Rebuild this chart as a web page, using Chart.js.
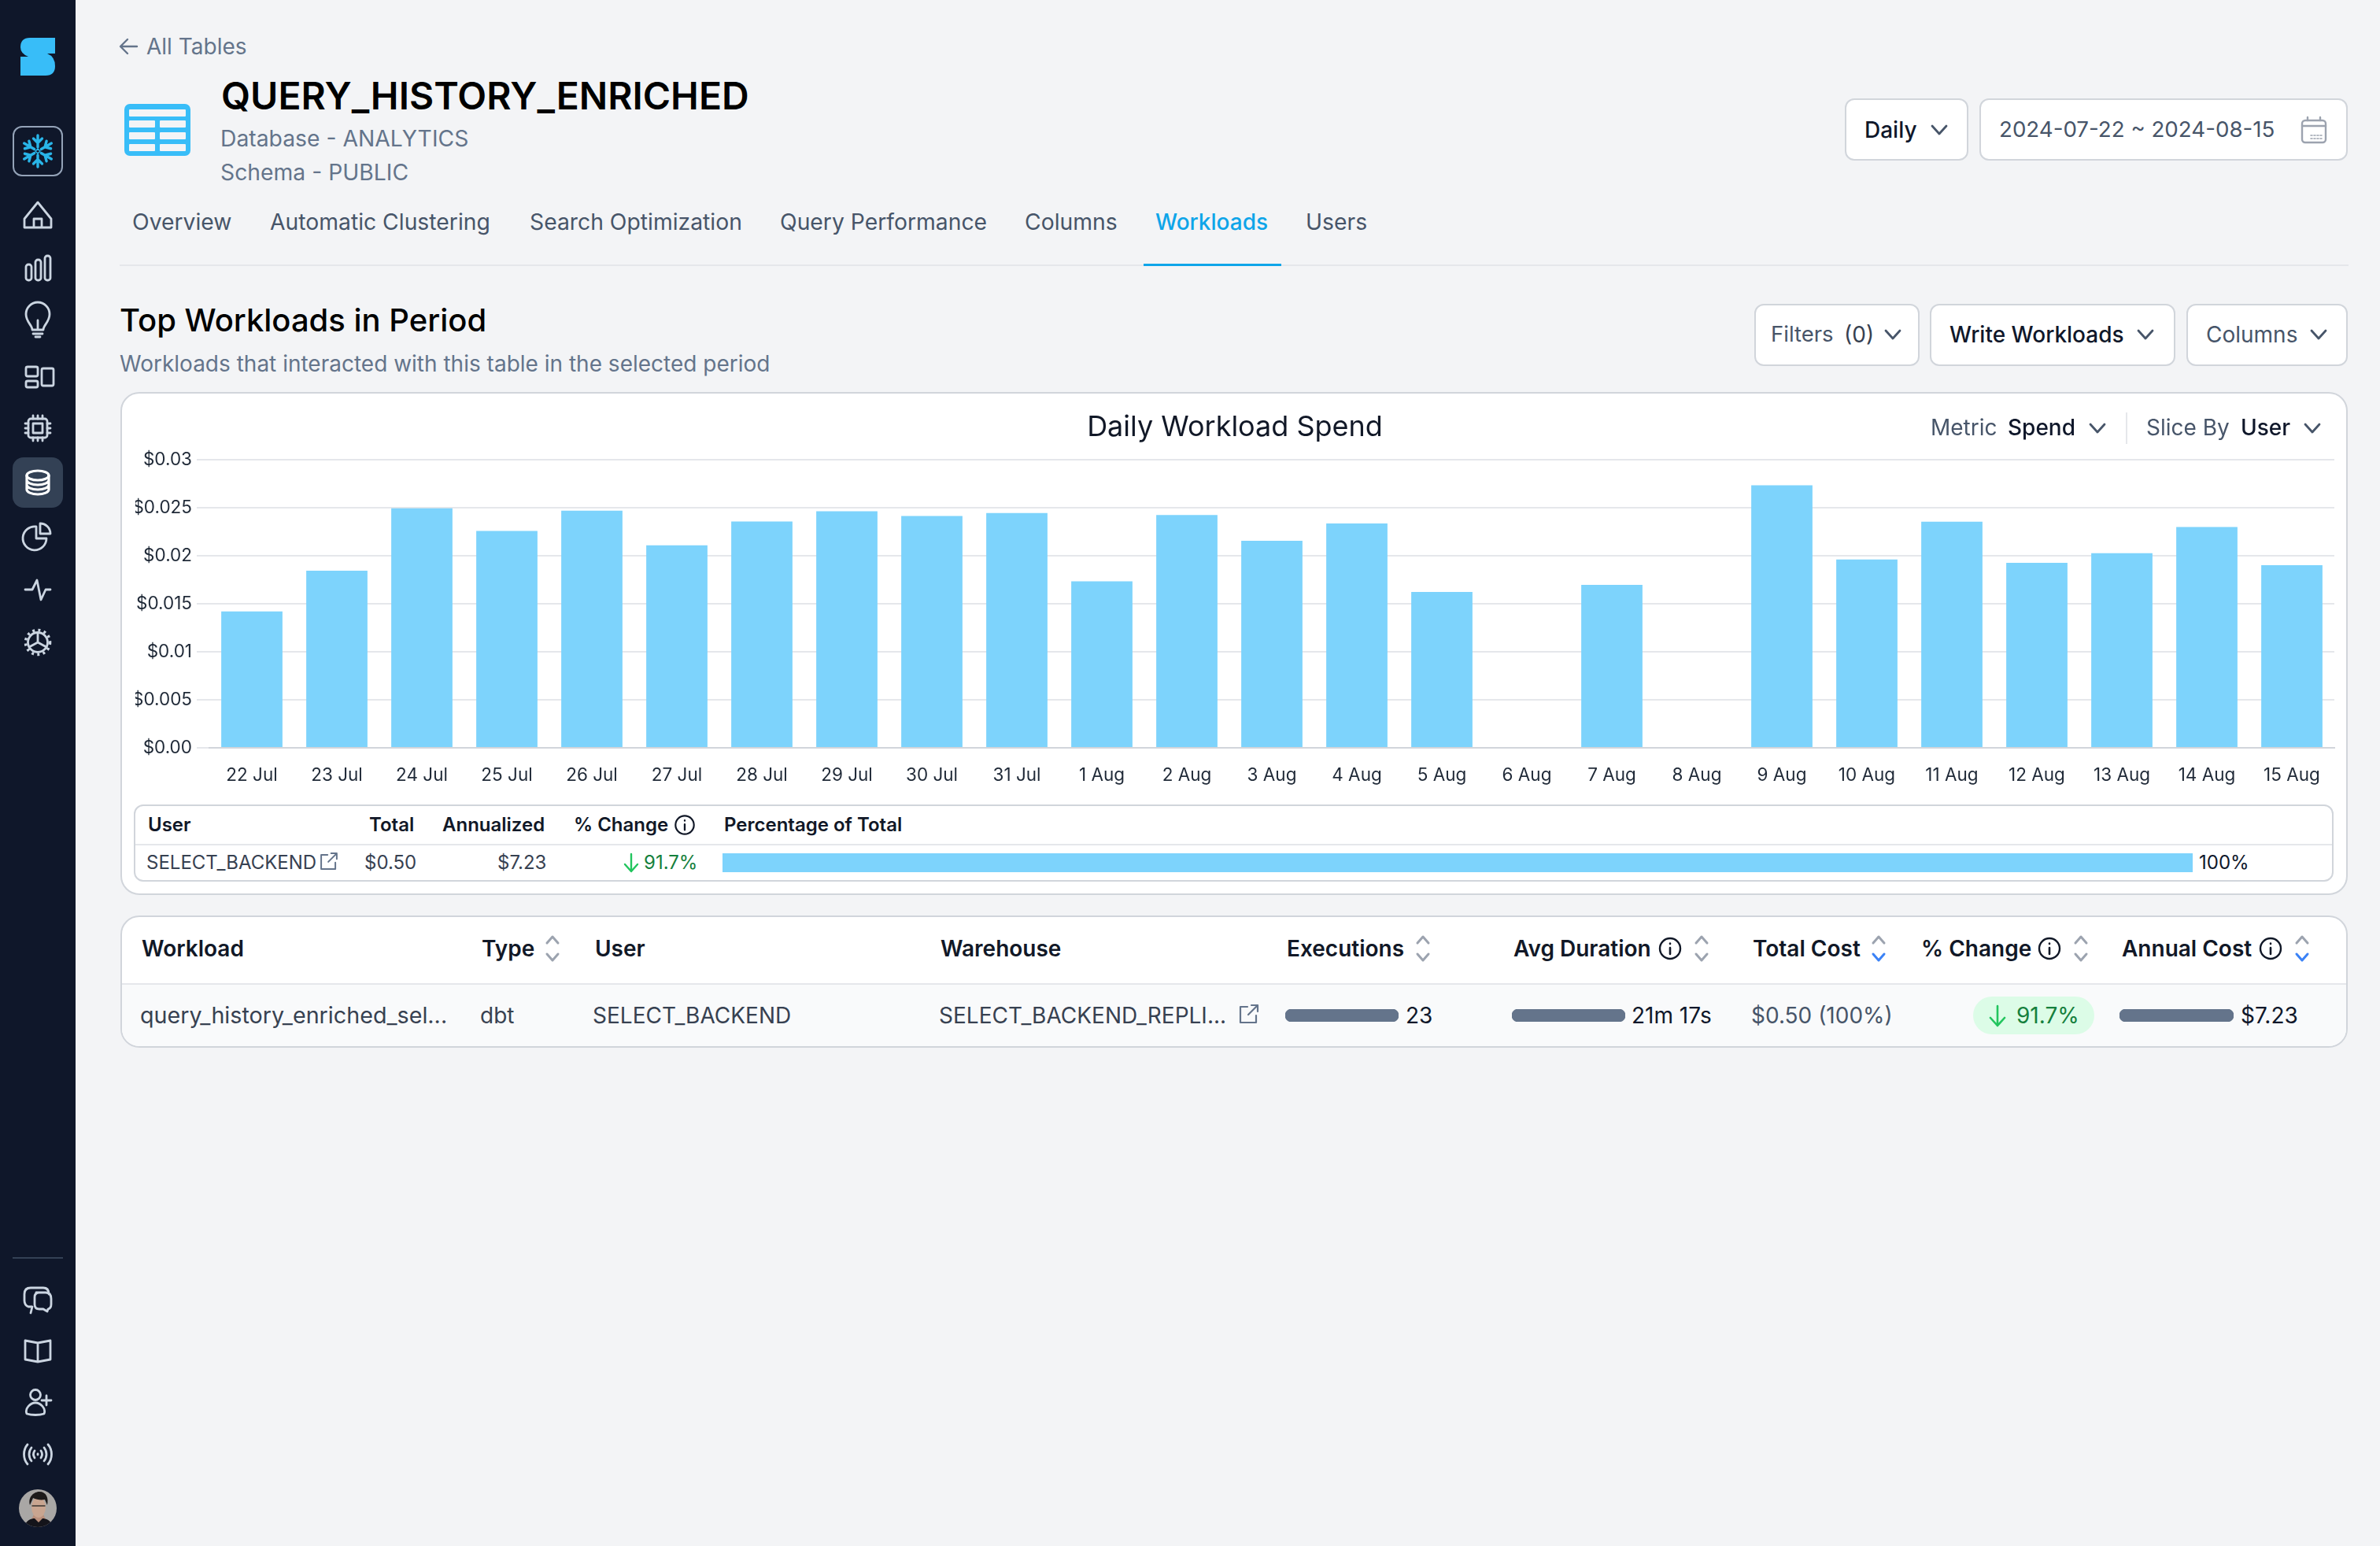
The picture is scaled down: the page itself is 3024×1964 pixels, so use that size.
<!DOCTYPE html>
<html>
<head>
<meta charset="utf-8">
<title>QUERY_HISTORY_ENRICHED</title>
<script src="https://cdn.jsdelivr.net/npm/chart.js@4"></script>
<style>
html, body { margin: 0; padding: 0; background: #f3f4f6; }
body { width: 3024px; height: 1964px; position: relative; overflow: hidden; font-family: Inter, sans-serif; font-size: 28px; color: #0f172a; }
.abs { position: absolute; box-sizing: border-box; }
.t { position: absolute; white-space: nowrap; transform: translateY(-50%); line-height: 1; }
.grey { color: #64748b; }
.slate { color: #475569; }
.dark { color: #374151; }
.tab { color: #475569; font-size: 28.3px; }
.b { font-weight: 500; }
.th { font-weight: 600; color: #111827; }
.sm { font-size: 24px; }
.btn { position: absolute; box-sizing: border-box; background: #fff; border: 2px solid #d1d5db; border-radius: 12px; }
canvas { display: block; }
</style>
</head>
<body>
<div class="abs" style="left:0;top:0;width:96px;height:1964px;background:#0f172a"></div>
<div class="abs" style="left:16px;top:581px;width:64px;height:64px;background:#334155;border-radius:14px"></div>
<div class="abs" style="left:16px;top:160px;width:64px;height:64px;border:2px solid #94a3b8;border-radius:12px"></div>
<div class="abs" style="left:16px;top:1597px;width:64px;height:2px;background:#334155"></div>

<!-- header -->
<div class="t grey" style="left:186px;top:59px">All Tables</div>
<div class="t" style="left:281px;top:122px;font-size:48px;font-weight:600;color:#000">QUERY_HISTORY_ENRICHED</div>
<div class="t grey" style="left:280px;top:176px;font-size:28.3px">Database - ANALYTICS</div>
<div class="t grey" style="left:280px;top:219px;font-size:28.3px">Schema - PUBLIC</div>

<div class="btn" style="left:2344px;top:125px;width:157px;height:79px"></div>
<div class="t b" style="left:2369px;top:165px">Daily</div>
<div class="btn" style="left:2515px;top:125px;width:468px;height:79px"></div>
<div class="t slate" style="left:2540px;top:165px;font-size:27.7px">2024-07-22 ~ 2024-08-15</div>

<!-- tabs -->
<div class="t tab" style="left:168px;top:282px">Overview</div>
<div class="t tab" style="left:343px;top:282px">Automatic Clustering</div>
<div class="t tab" style="left:673px;top:282px">Search Optimization</div>
<div class="t tab" style="left:991px;top:282px">Query Performance</div>
<div class="t tab" style="left:1302px;top:282px">Columns</div>
<div class="t" style="left:1468px;top:282px;color:#0ea5e9;font-weight:500">Workloads</div>
<div class="t tab" style="left:1659px;top:282px">Users</div>
<div class="abs" style="left:152px;top:336px;width:2832px;height:2px;background:#e5e7eb"></div>
<div class="abs" style="left:1453px;top:335px;width:175px;height:3px;background:#0ea5e9"></div>

<!-- section title -->
<div class="t" style="left:152px;top:407px;font-size:40px;font-weight:500;color:#000">Top Workloads in Period</div>
<div class="t grey" style="left:152px;top:462px">Workloads that interacted with this table in the selected period</div>
<div class="btn" style="left:2229px;top:386px;width:210px;height:79px"></div>
<div class="t slate" style="left:2250px;top:425px;font-size:27.5px">Filters</div>
<div class="t dark" style="left:2343px;top:425px">(0)</div>
<div class="btn" style="left:2452px;top:386px;width:312px;height:79px"></div>
<div class="t b" style="left:2477px;top:425px">Write Workloads</div>
<div class="btn" style="left:2778px;top:386px;width:205px;height:79px"></div>
<div class="t slate" style="left:2803px;top:425px">Columns</div>

<!-- chart card -->
<div class="abs" style="left:153px;top:498px;width:2830px;height:639px;background:#fff;border:2px solid #d1d5db;border-radius:24px"></div>
<canvas id="spendChart" class="abs" width="2826" height="510" style="left:156px;top:501px"></canvas>
<div class="t slate" style="left:2453px;top:543px">Metric</div>
<div class="t b" style="left:2551px;top:543px">Spend</div>
<div class="abs" style="left:2701px;top:524px;width:2px;height:40px;background:#e5e7eb"></div>
<div class="t slate" style="left:2727px;top:543px">Slice By</div>
<div class="t b" style="left:2847px;top:543px">User</div>

<!-- slice legend table -->
<div class="abs" style="left:170px;top:1022px;width:2795px;height:98px;border:2px solid #d1d5db;border-radius:12px"></div>
<div class="abs" style="left:172px;top:1072px;width:2791px;height:2px;background:#e5e7eb"></div>
<div class="t sm th" style="left:188px;top:1048px">User</div>
<div class="t sm th" style="left:469px;top:1048px">Total</div>
<div class="t sm th" style="left:562px;top:1048px">Annualized</div>
<div class="t sm th" style="left:729px;top:1048px">% Change</div>
<div class="t sm th" style="left:920px;top:1048px">Percentage of Total</div>
<div class="t sm dark" style="left:186px;top:1096px">SELECT_BACKEND</div>
<div class="t sm dark" style="left:463px;top:1096px">$0.50</div>
<div class="t sm dark" style="left:632px;top:1096px">$7.23</div>
<div class="t sm" style="left:818px;top:1096px;color:#15803d">91.7%</div>
<canvas id="shareBar" class="abs" width="1868" height="24" style="left:918px;top:1084px"></canvas>
<div class="t sm" style="left:2794px;top:1096px">100%</div>

<!-- workloads table -->
<div class="abs" style="left:153px;top:1163px;width:2830px;height:168px;background:#fff;border:2px solid #d1d5db;border-radius:24px;overflow:hidden">
  <div class="abs" style="left:0;top:84px;width:100%;height:82px;background:#f9fafb;border-top:2px solid #e5e7eb"></div>
</div>
<div class="t th" style="left:180px;top:1205px">Workload</div>
<div class="t th" style="left:612px;top:1205px">Type</div>
<div class="t th" style="left:756px;top:1205px">User</div>
<div class="t th" style="left:1195px;top:1205px">Warehouse</div>
<div class="t th" style="left:1635px;top:1205px">Executions</div>
<div class="t th" style="left:1923px;top:1205px">Avg Duration</div>
<div class="t th" style="left:2227px;top:1205px">Total Cost</div>
<div class="t th" style="left:2441px;top:1205px">% Change</div>
<div class="t th" style="left:2696px;top:1205px">Annual Cost</div>
<div class="t dark" style="left:178px;top:1290px;font-size:28.7px">query_history_enriched_sel...</div>
<div class="t dark" style="left:610px;top:1290px">dbt</div>
<div class="t dark" style="left:753px;top:1290px">SELECT_BACKEND</div>
<div class="t dark" style="left:1193px;top:1290px">SELECT_BACKEND_REPLI...</div>
<canvas id="execBar" class="abs" width="144" height="16" style="left:1633px;top:1282px"></canvas>
<div class="t" style="left:1786px;top:1290px">23</div>
<canvas id="durationBar" class="abs" width="144" height="16" style="left:1921px;top:1282px"></canvas>
<div class="t" style="left:2073px;top:1290px">21m 17s</div>
<div class="t slate" style="left:2225px;top:1290px">$0.50 (100%)</div>
<div class="abs" style="left:2507px;top:1266px;width:154px;height:48px;background:#dcfce7;border-radius:24px"></div>
<div class="t" style="left:2562px;top:1290px;color:#15803d">91.7%</div>
<canvas id="annualBar" class="abs" width="145" height="16" style="left:2693px;top:1282px"></canvas>
<div class="t" style="left:2847px;top:1290px">$7.23</div>

<svg class="abs" width="3024" height="1964" viewBox="0 0 3024 1964" style="left:0;top:0;pointer-events:none" fill="none" stroke-linecap="round" stroke-linejoin="round">
  <defs>
    <g id="chev"><path d="M-9 -5 L0 5 L9 -5" stroke="#475569" stroke-width="2.8"/></g>
    <g id="sortUp"><path d="M-7 -7 L0 -15 L7 -7" stroke="#9ca3af" stroke-width="3"/></g>
    <g id="sortDn"><path d="M-7 7 L0 15 L7 7" stroke="#9ca3af" stroke-width="3"/></g>
    <g id="sortBlue"><path d="M-7 7 L0 15 L7 7" stroke="#3b82f6" stroke-width="3"/></g>
    <g id="info"><circle r="13" stroke="#111827" stroke-width="2.4"/><path d="M0 -1V7M0 -6.5V-6" stroke="#111827" stroke-width="2.6"/></g>
    <g id="link"><path d="M-2 -9H-11V11H9V2M-1 1L11 -11M3 -11H11V-3" stroke="#64748b" stroke-width="2.2"/></g>
    <g id="arm"><path d="M0 -5V-20M-5.5 -16L0 -10.5L5.5 -16" stroke="#29b5e8" stroke-width="3.4"/></g>
  </defs>

  <!-- logo and side nav -->
  <path d="M38 48H70V68H60Q70 72 70 84Q70 96 58 96H26V72H36Q26 68 26 60Q26 48 38 48Z" fill="#38bdf8"/>
  <g transform="translate(48 192)">
    <use href="#arm"/><use href="#arm" transform="rotate(60)"/><use href="#arm" transform="rotate(120)"/>
    <use href="#arm" transform="rotate(180)"/><use href="#arm" transform="rotate(240)"/><use href="#arm" transform="rotate(300)"/>
    <path d="M0 -3L3 0L0 3L-3 0Z" stroke="#29b5e8" stroke-width="1.6"/>
  </g>
  <g stroke="#cbd5e1" stroke-width="2.8">
    <path d="M48 257L31 278V289H65V278ZM43 289V278H53V289"/>
    <rect x="33" y="336" width="7" height="20" rx="3"/><rect x="45" y="330" width="7" height="26" rx="3"/><rect x="57" y="325" width="7" height="31" rx="3"/>
    <path d="M41 419C41 413 33 409 33 399A15 15 0 0 1 63 399C63 409 55 413 55 419ZM42 424H54M45 428H51M48 419V407"/>
    <rect x="33" y="466" width="15" height="12" rx="2"/><rect x="33" y="484" width="15" height="8" rx="2"/><rect x="53" y="468" width="15" height="22" rx="2"/>
    <rect x="36" y="532" width="24" height="24" rx="3"/><rect x="42" y="538" width="12" height="12"/>
    <path d="M42 528v4M48 528v4M54 528v4M42 556v4M48 556v4M54 556v4M32 538h4M32 544h4M32 550h4M60 538h4M60 544h4M60 550h4"/>
    <path d="M46 669A15 15 0 1 0 59 684H46ZM51 665A13 13 0 0 1 64 678H51Z"/>
    <path d="M32 749H41L47 737L52 762L58 749H64"/>
    <circle cx="48" cy="816" r="12.5"/>
    <circle cx="48" cy="816" r="15.5" stroke-width="3.6" stroke-dasharray="3 4.3" stroke-linecap="butt"/>
    <path d="M48 816V804M48 816L37 822M48 816L59 822"/>
    <path d="M39 1668L41 1660H36Q31 1658 31 1652V1644Q31 1636 39 1636H55Q62 1636 62 1644M46 1642H58Q65 1642 65 1650V1657Q65 1662 61 1663L60 1666L55 1663H50Q44 1663 44 1657V1648Q44 1642 50 1642"/>
    <path d="M48 1706V1730L32 1727V1703L48 1706L64 1703V1727L48 1730"/>
    <circle cx="45" cy="1772" r="6.5"/>
    <path d="M34 1796C31 1789 39 1782 45 1782C51 1782 59 1789 56 1796C50 1798 40 1798 34 1796ZM53 1779H65M59 1773V1785"/>
    <path d="M35 1835C29 1842 29 1853 35 1860M61 1835C67 1842 67 1853 61 1860M40 1839C36 1844 36 1851 40 1856M56 1839C60 1844 60 1851 56 1856M44 1843C42 1846 42 1849 44 1852M52 1843C54 1846 54 1849 52 1852M48 1847V1848"/>
  </g>
  <g stroke="#fff" stroke-width="3.2">
    <ellipse cx="48" cy="604" rx="14" ry="6"/>
    <path d="M34 604V622C34 625 40 628 48 628C56 628 62 625 62 622V604M34 610C34 613 40 616 48 616C56 616 62 613 62 610M34 616C34 619 40 622 48 622C56 622 62 619 62 616"/>
  </g>
  <clipPath id="avatarClip"><circle cx="48" cy="1916" r="24"/></clipPath>
  <g clip-path="url(#avatarClip)">
    <rect x="24" y="1892" width="48" height="48" fill="#a9a7a5"/>
    <path d="M38 1934L44 1922H54L60 1934Z" fill="#b98f7b"/>
    <ellipse cx="49" cy="1915" rx="9" ry="13" fill="#c9a590"/>
    <path d="M38 1912C35 1901 44 1895 50 1895C59 1895 62 1903 60 1912L57 1905C52 1906 46 1905 42 1903Z" fill="#1d1a1a"/>
    <path d="M41 1913h6M51 1913h6M47 1913h4" stroke="#3a3430" stroke-width="1.4"/>
    <path d="M30 1942C32 1931 40 1929 44 1929L49 1934L54 1929C58 1929 66 1931 68 1942Z" fill="#14141a"/>
  </g>

  <!-- back arrow, table icon -->
  <path d="M154 59H174M162 50L153 59L162 68" stroke="#64748b" stroke-width="2.4"/>
  <rect x="160" y="134" width="80" height="62" rx="5" fill="#38bdf8" stroke="#38bdf8" stroke-width="4"/>
  <g fill="#f3f4f6">
    <rect x="164" y="139" width="72" height="9" rx="1"/>
    <rect x="164" y="153" width="33" height="9" rx="1"/><rect x="203" y="153" width="33" height="9" rx="1"/>
    <rect x="164" y="168" width="33" height="9" rx="1"/><rect x="203" y="168" width="33" height="9" rx="1"/>
    <rect x="164" y="183" width="33" height="9" rx="1"/><rect x="203" y="183" width="33" height="9" rx="1"/>
  </g>

  <!-- dropdown chevrons -->
  <use href="#chev" x="2464" y="165"/><use href="#chev" x="2405" y="425"/><use href="#chev" x="2726" y="425"/>
  <use href="#chev" x="2946" y="425"/><use href="#chev" x="2665" y="544"/><use href="#chev" x="2938" y="544"/>
  <!-- calendar -->
  <rect x="2925" y="153" width="30" height="28" rx="4" stroke="#9ca3af" stroke-width="2.4"/>
  <path d="M2925 160H2955M2932 149V153M2948 149V153" stroke="#9ca3af" stroke-width="2.4"/>
  <path d="M2936 172H2950M2936 176H2950" stroke="#9ca3af" stroke-width="1.6" stroke-dasharray="2 2"/>

  <!-- legend table icons -->
  <use href="#info" x="870" y="1048" transform="translate(87 104.8) scale(.9)"/>
  <use href="#link" x="418" y="1094" transform="translate(41.8 109.4) scale(.9)"/>
  <path d="M802 1085V1106M794 1098L802 1107L810 1098" stroke="#22c55e" stroke-width="2.4"/>

  <!-- workloads table icons -->
  <use href="#sortUp" x="702" y="1205"/><use href="#sortDn" x="702" y="1205"/>
  <use href="#sortUp" x="1808" y="1205"/><use href="#sortDn" x="1808" y="1205"/>
  <use href="#info" x="2122" y="1205"/><use href="#sortUp" x="2162" y="1205"/><use href="#sortDn" x="2162" y="1205"/>
  <use href="#sortUp" x="2387" y="1205"/><use href="#sortBlue" x="2387" y="1205"/>
  <use href="#info" x="2604" y="1205"/><use href="#sortUp" x="2644" y="1205"/><use href="#sortDn" x="2644" y="1205"/>
  <use href="#info" x="2885" y="1205"/><use href="#sortUp" x="2925" y="1205"/><use href="#sortBlue" x="2925" y="1205"/>
  <use href="#link" x="1587" y="1288"/>
  <path d="M2538 1278V1302M2529 1293L2538 1303L2547 1293" stroke="#22c55e" stroke-width="2.6"/>
</svg>

<script>
// chart data
const dayLabels = ['22 Jul', '23 Jul', '24 Jul', '25 Jul', '26 Jul', '27 Jul', '28 Jul', '29 Jul', '30 Jul', '31 Jul',
    '1 Aug', '2 Aug', '3 Aug', '4 Aug', '5 Aug', '6 Aug', '7 Aug', '8 Aug', '9 Aug', '10 Aug', '11 Aug', '12 Aug',
    '13 Aug', '14 Aug', '15 Aug'];
const dailySpend = [0.0142, 0.01845, 0.02495, 0.0226, 0.02471, 0.0211, 0.02357, 0.02464, 0.02415, 0.02447,
    0.01735, 0.02425, 0.02157, 0.02338, 0.01623, 0, 0.01698, 0, 0.02736, 0.01962, 0.02355, 0.01928,
    0.02028, 0.023, 0.01902];
const spendTickLabels = ['$0.00', '$0.005', '$0.01', '$0.015', '$0.02', '$0.025', '$0.03'];
const shareOfTotal = [100];
const executions = [23];
const avgDurationSeconds = [1277];
const annualCost = [7.23];

const tickFont = { family: 'Inter', size: 22.5 };

new Chart(document.getElementById('spendChart'), {
    type: 'bar',
    data: {
        labels: dayLabels,
        datasets: [{ data: dailySpend, backgroundColor: '#7dd3fc', barPercentage: 0.9, categoryPercentage: 0.8 }]
    },
    options: {
        responsive: false,
        animation: false,
        devicePixelRatio: 1,
        layout: { padding: { left: 16, right: 16 } },
        plugins: {
            legend: { display: false },
            tooltip: { enabled: false },
            title: {
                display: true,
                text: 'Daily Workload Spend',
                color: '#111827',
                font: { family: 'Inter', size: 36, weight: '400' },
                padding: { top: 21, bottom: 19 }
            }
        },
        scales: {
            x: {
                grid: { drawOnChartArea: false, color: 'transparent', tickLength: 16 },
                border: { color: '#d1d5db', width: 2 },
                ticks: { color: '#1f2937', font: tickFont, padding: 6, maxRotation: 0, autoSkip: false },
                afterFit: (scale) => { scale.height = 61; }
            },
            y: {
                min: 0,
                max: 0.03,
                grid: { color: '#e5e7eb', lineWidth: 2, tickLength: 16 },
                border: { display: false },
                ticks: {
                    stepSize: 0.005,
                    color: '#1f2937',
                    font: tickFont,
                    padding: 6,
                    callback: (value, index) => spendTickLabels[index]
                },
                afterFit: (scale) => { scale.width = 94; }
            }
        }
    }
});

// one-bar charts used inside the tables
function makeCellBar(id, values, color, radius) {
    new Chart(document.getElementById(id), {
        type: 'bar',
        data: {
            labels: [''],
            datasets: [{ data: values, backgroundColor: color, borderRadius: radius, borderSkipped: false, barPercentage: 1, categoryPercentage: 1 }]
        },
        options: {
            indexAxis: 'y',
            responsive: false,
            animation: false,
            devicePixelRatio: 1,
            plugins: { legend: { display: false }, tooltip: { enabled: false } },
            scales: {
                x: { display: false, min: 0, max: values[0] },
                y: { display: false }
            }
        }
    });
}
makeCellBar('shareBar', shareOfTotal, '#7dd3fc', 0);
makeCellBar('execBar', executions, '#64748b', 8);
makeCellBar('durationBar', avgDurationSeconds, '#64748b', 8);
makeCellBar('annualBar', annualCost, '#64748b', 8);
</script>
</body>
</html>
